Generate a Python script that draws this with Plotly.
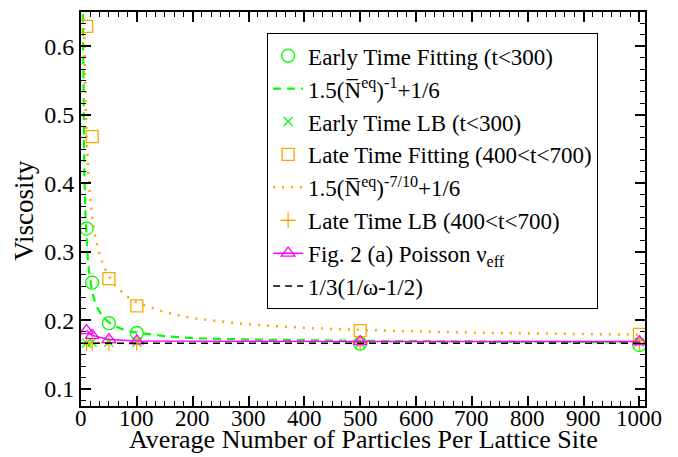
import plotly.graph_objects as go

# ---- data ----
N_pts = [10, 20, 50, 100, 500, 1000]
early_fit = [0.334, 0.255, 0.196, 0.1815, 0.166, 0.164]
early_lb = [0.167, 0.168, 0.168, 0.168, 0.167, 0.168]
late_fit = [0.629, 0.468, 0.261, 0.221, 0.185, 0.1796]
late_lb = [0.166, 0.167, 0.167, 0.167, 0.167, 0.167]
poisson = [0.185, 0.178, 0.172, 0.170, 0.169, 0.169]

N_curve_early = [3, 3.5, 4, 5, 6, 8, 10, 12, 15, 20, 25, 30, 40, 50, 60, 80, 100,
                 150, 200, 300, 500, 700, 1000]
curve_early = [0.667, 0.595, 0.542, 0.467, 0.417, 0.354, 0.317, 0.292, 0.267, 0.242,
               0.227, 0.217, 0.204, 0.197, 0.192, 0.185, 0.182, 0.177, 0.174, 0.172,
               0.170, 0.169, 0.168]
N_curve_late = [5, 6, 8, 10, 12, 15, 20, 25, 30, 40, 50, 60, 80, 100, 150, 200, 300,
                400, 500, 700, 1000]
curve_late = [0.653, 0.594, 0.517, 0.466, 0.430, 0.392, 0.351, 0.324, 0.305, 0.280,
              0.264, 0.252, 0.236, 0.226, 0.212, 0.203, 0.194, 0.189, 0.186, 0.182,
              0.179]
N_const = [0, 1010]
const_line = [0.1667, 0.1667]

x_ticks = [0, 100, 200, 300, 400, 500, 600, 700, 800, 900, 1000]
x_tick_labels = ["0", "100", "200", "300", "400", "500", "600", "700", "800", "900", "1000"]
y_ticks = [0.1, 0.2, 0.3, 0.4, 0.5, 0.6]
x_title = "Average Number of Particles Per Lattice Site"
y_title = "Viscosity"

GREEN = "#00ff00"
ORANGE = "#ffa500"
MAGENTA = "#ff00ff"
FONT = "Liberation Serif, Times New Roman, serif"

fig = go.Figure()
fig.add_trace(go.Scatter(x=N_pts, y=early_fit, mode="markers",
                         name="Early Time Fitting (t<300)",
                         marker=dict(symbol="circle-open", size=13, color=GREEN,
                                     line=dict(width=1.3, color=GREEN))))
fig.add_trace(go.Scatter(x=N_curve_early, y=curve_early, mode="lines",
                         name="1.5(N\u0305<sup>eq</sup>)<sup>-1</sup>+1/6",
                         line=dict(color=GREEN, width=2.2, dash="8px,6px")))
fig.add_trace(go.Scatter(x=N_pts, y=early_lb, mode="markers",
                         name="Early Time LB (t<300)",
                         marker=dict(symbol="x-thin-open", size=9, color=GREEN,
                                     line=dict(width=1.2, color=GREEN))))
fig.add_trace(go.Scatter(x=N_pts, y=late_fit, mode="markers",
                         name="Late Time Fitting (400<t<700)",
                         marker=dict(symbol="square-open", size=12, color=ORANGE,
                                     line=dict(width=1.3, color=ORANGE))))
fig.add_trace(go.Scatter(x=N_curve_late, y=curve_late, mode="lines",
                         name="1.5(N\u0305<sup>eq</sup>)<sup>-7/10</sup>+1/6",
                         line=dict(color=ORANGE, width=2.5, dash="2px,7px")))
fig.add_trace(go.Scatter(x=N_pts, y=late_lb, mode="markers",
                         name="Late Time LB (400<t<700)",
                         marker=dict(symbol="cross-thin-open", size=11, color=ORANGE,
                                     line=dict(width=1.3, color=ORANGE))))
fig.add_trace(go.Scatter(x=N_pts, y=poisson, mode="lines+markers",
                         name="Fig. 2 (a) Poisson \u03bd<sub>eff</sub>",
                         line=dict(color=MAGENTA, width=1.5),
                         marker=dict(symbol="triangle-up-open", size=12, color=MAGENTA,
                                     line=dict(width=1.3, color=MAGENTA))))
fig.add_trace(go.Scatter(x=N_const, y=const_line, mode="lines",
                         name="1/3(1/\u03c9-1/2)",
                         line=dict(color="black", width=1.5, dash="7px,5px")))

axis_common = dict(showgrid=False, zeroline=False, showline=True, linecolor="black",
                   linewidth=2, mirror="allticks", ticks="inside", ticklen=10,
                   tickwidth=1.5, tickcolor="black", automargin=False,
                   tickfont=dict(family=FONT, size=24, color="black"))

fig.update_xaxes(range=[0, 1010], tickvals=x_ticks, showticklabels=False, **axis_common,
                 minor=dict(dtick=100 / 6, ticks="inside", ticklen=5, tickwidth=1,
                            tickcolor="black"))
fig.update_yaxes(range=[0.075, 0.65], tickvals=y_ticks, **axis_common,
                 minor=dict(dtick=0.1 / 6, ticks="inside", ticklen=5, tickwidth=1,
                            tickcolor="black"))

# x tick labels placed at the data positions of the ticks
for xv, lab in zip(x_ticks, x_tick_labels):
    fig.add_annotation(text=lab, x=xv, xref="x", y=-0.031, yref="paper",
                       xanchor="center", yanchor="middle", showarrow=False,
                       font=dict(family=FONT, size=23, color="black"))

fig.add_annotation(text=x_title, xref="paper", yref="paper", x=0.5, y=-0.086,
                   xanchor="center", yanchor="middle", showarrow=False,
                   font=dict(family=FONT, size=26, color="black"))
fig.add_annotation(text=y_title, xref="paper", yref="paper", x=-0.1, y=0.497,
                   xanchor="center", yanchor="middle", showarrow=False, textangle=-90,
                   font=dict(family=FONT, size=27, color="black"))

fig.update_layout(
    width=678, height=457,
    margin=dict(l=81, r=33, t=12, b=51),
    paper_bgcolor="white", plot_bgcolor="white",
    font=dict(family=FONT, color="black"),
    legend=dict(x=0.33, y=0.946, xanchor="left", yanchor="top",
                bordercolor="black", borderwidth=1, bgcolor="white",
                font=dict(family=FONT, size=23, color="black"),
                tracegroupgap=0, itemwidth=30),
    showlegend=True,
)

fig.write_html("out.html")
